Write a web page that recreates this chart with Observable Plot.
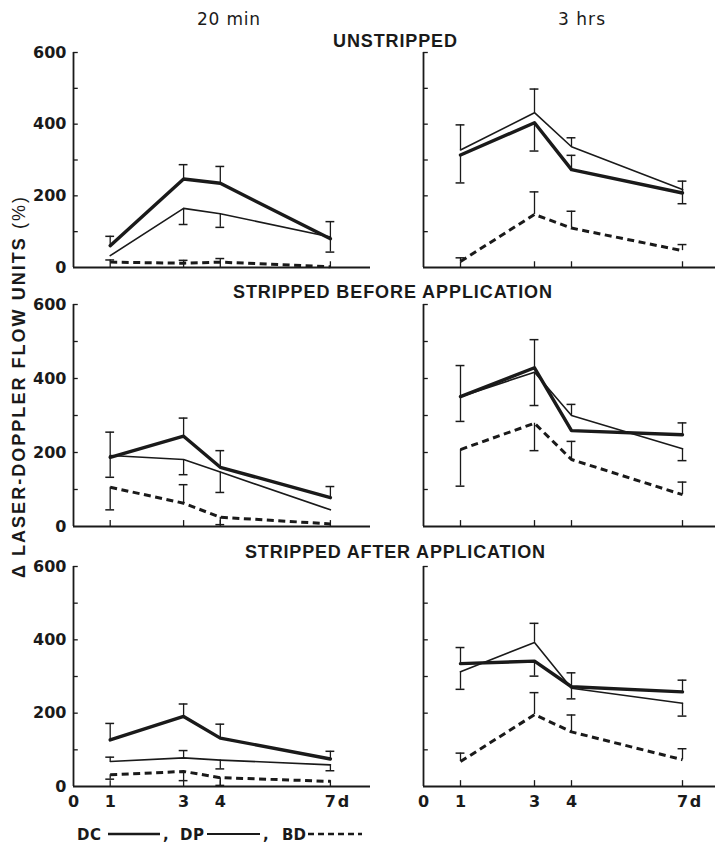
<!DOCTYPE html>
<html><head><meta charset="utf-8">
<script src="https://cdn.jsdelivr.net/npm/d3@7"></script>
<script src="https://cdn.jsdelivr.net/npm/@observablehq/plot@0.6"></script>
<style>
body{margin:0;background:#fff;}
#fig{position:relative;width:717px;height:845px;overflow:hidden;background:#fff;}
</style></head><body><div id="fig"></div>
<script>
// ---------- data ----------
const days = [1, 3, 4, 7];
const conditions = ["UNSTRIPPED", "STRIPPED BEFORE APPLICATION", "STRIPPED AFTER APPLICATION"];
const times = ["20 min", "3 hrs"];
const xTickValues = [0, 1, 3, 4, 7];
const yLabelValues = [0, 200, 400, 600];
const yTickValues = [100, 200, 300, 400, 500, 600];
const seriesNames = ["DC", "DP", "BD"];
// panel order: UNSTRIPPED 20min, UNSTRIPPED 3hrs, BEFORE 20min, BEFORE 3hrs, AFTER 20min, AFTER 3hrs
const DC_mean = [[61,247,235,80],[314,404,273,208],[187,244,160,78],[351,429,259,248],[127,191,132,75],[335,342,272,258]];
const DC_err  = [[26,40,47,48],[-78,-79,40,33],[68,49,45,30],[84,76,0,32],[45,34,38,21],[44,-41,38,32]];
const DP_mean = [[33,165,150,85],[328,432,337,218],[192,181,147,45],[351,417,300,210],[68,78,72,59],[313,393,268,227]];
const DP_err  = [[0,-45,-38,-42],[70,66,25,-40],[-59,-41,-55,0],[-67,-90,30,-32],[12,20,-24,-16],[-48,52,-29,-35]];
const BD_mean = [[15,12,15,2],[17,148,110,47],[106,63,25,7],[208,279,181,86],[32,41,24,14],[68,196,149,73]];
const BD_err  = [[6,8,10,0],[10,63,47,17],[-61,50,-20,0],[-99,-74,49,34],[-12,-25,-21,0],[23,60,46,30]];

// ---------- styles / layout ----------
const INK = "#1a1a1a";
const series = [
  {key: seriesNames[0], mean: DC_mean, err: DC_err, width: 3.4, dash: null, cap: "round"},
  {key: seriesNames[1], mean: DP_mean, err: DP_err, width: 1.6, dash: null, cap: "round"},
  {key: seriesNames[2], mean: BD_mean, err: BD_err, width: 3, dash: "7,4.5", cap: "butt"}
];
const rowTop = [52, 304, 566];
const rowBottom = [267, 526, 786];
const fig = document.getElementById("fig");

function makePanel(ci, ti) {
  const p = ci * times.length + ti;
  const isLeft = ti === 0, isBottom = ci === conditions.length - 1;
  const mt = 10, mb = isBottom ? 34 : 10;
  const ml = isLeft ? 52 : 12, mr = 2;
  const origin = isLeft ? 73 : 423;
  const ppd = isLeft ? 36.7 : 37;
  const xmax = isLeft ? 8.1 : 7.9;
  const width = Math.round(ml + xmax * ppd + mr);
  const height = mt + (rowBottom[ci] - rowTop[ci]) + mb;
  const errRows = [];
  const marks = [
    Plot.ruleY([0], {stroke: INK, strokeWidth: 1.8}),
    Plot.ruleX([0], {y1: 0, y2: 600, stroke: INK, strokeWidth: 1.8}),
    Plot.ruleY(yTickValues, {y: d => d, x1: 0, x2: 0.13, stroke: INK, strokeWidth: 1.3}),
    Plot.ruleX(days, {x: d => d, y1: 0, y2: 16, stroke: INK, strokeWidth: 1.3})
  ];
  for (const s of series) {
    const rows = days.map((d, i) => ({series: s.key, day: d, value: s.mean[p][i], err: s.err[p][i]}));
    for (const r of rows) if (r.err) errRows.push(r);
    marks.push(Plot.line(rows, {x: "day", y: "value", stroke: INK, strokeWidth: s.width,
      strokeDasharray: s.dash, strokeLinecap: s.cap, strokeLinejoin: "round"}));
  }
  marks.push(Plot.ruleX(errRows, {x: "day", y1: "value", y2: d => d.value + d.err, stroke: INK, strokeWidth: 1.3}));
  marks.push(Plot.ruleY(errRows, {y: d => d.value + d.err, x1: d => d.day - 0.12, x2: d => d.day + 0.12, stroke: INK, strokeWidth: 1.5}));
  if (isBottom) {
    marks.push(Plot.text([7], {x: d => d, y: () => 0, text: () => "d", dx: 13, dy: 9, lineAnchor: "top", fill: INK}));
  }
  const svg = Plot.plot({
    width, height, marginLeft: ml, marginRight: mr, marginTop: mt, marginBottom: mb,
    x: {domain: [0, xmax], range: [ml, ml + xmax * ppd], axis: isBottom ? "bottom" : null,
        ticks: xTickValues, tickFormat: d => String(d), tickSize: 0, tickPadding: 9, label: null},
    y: {domain: [0, 600], axis: isLeft ? "left" : null, ticks: yLabelValues, tickSize: 0, tickPadding: 7, label: null},
    style: {fontFamily: "'DejaVu Sans', sans-serif", fontSize: "16px", fontWeight: "bold", color: INK,
            background: "transparent", overflow: "visible"},
    marks
  });
  svg.style.position = "absolute";
  svg.style.left = (origin - ml) + "px";
  svg.style.top = (rowTop[ci] - mt) + "px";
  fig.appendChild(svg);
}
conditions.forEach((c, ci) => times.forEach((t, ti) => makePanel(ci, ti)));

// ---------- overlay text: headers, titles, y title, legend ----------
const ov = d3.create("svg").attr("width", 717).attr("height", 845)
  .style("position", "absolute").style("left", "0px").style("top", "0px").style("pointer-events", "none");
const T = (x, y, str, len, opts = {}) => ov.append("text").attr("x", x).attr("y", y)
  .attr("fill", INK).attr("font-family", opts.family || "'Liberation Sans', Arial, sans-serif")
  .attr("font-size", opts.size || 18).attr("font-weight", opts.weight || "bold")
  .attr("textLength", len).attr("lengthAdjust", "spacing").text(str);
// column headers
T(197, 25, times[0], 63, {family: "'DejaVu Sans', sans-serif", size: 17, weight: "normal"});
T(558, 25, times[1], 47, {family: "'DejaVu Sans', sans-serif", size: 17, weight: "normal"});
// row titles
const titleX = [333, 233, 245], titleY = [47, 298, 558], titleLen = [124, 319, 300];
conditions.forEach((c, i) => T(titleX[i], titleY[i], c, titleLen[i]));
// y-axis title
const yt = ov.append("text").attr("transform", "translate(25,578) rotate(-90)")
  .attr("fill", INK).attr("font-family", "'Liberation Sans', Arial, sans-serif")
  .attr("font-size", 18).attr("font-weight", "bold")
  .attr("textLength", 381).attr("lengthAdjust", "spacing");
yt.append("tspan").text("\u0394 LASER-DOPPLER FLOW UNITS ");
yt.append("tspan").attr("font-weight", "normal").text("(%)");
// legend
const LG = {family: "'DejaVu Sans', sans-serif", size: 15, weight: "bold"};
const legX = [77, 180, 282], lineX = [[108, 160], [207, 260], [308, 362]];
series.forEach((s, i) => {
  T(legX[i], 840, s.key, 24, LG);
  ov.append("line").attr("x1", lineX[i][0]).attr("x2", lineX[i][1]).attr("y1", 834).attr("y2", 834)
    .attr("stroke", INK).attr("stroke-width", i === 1 ? 1.8 : 2.6).attr("stroke-dasharray", s.dash ? "6,4" : null);
  if (i < 2) ov.append("text").attr("x", lineX[i][1] + 3).attr("y", 840).attr("fill", INK)
    .attr("font-family", LG.family).attr("font-size", LG.size).attr("font-weight", LG.weight).text(",");
});
fig.appendChild(ov.node());
</script>
</body></html>
